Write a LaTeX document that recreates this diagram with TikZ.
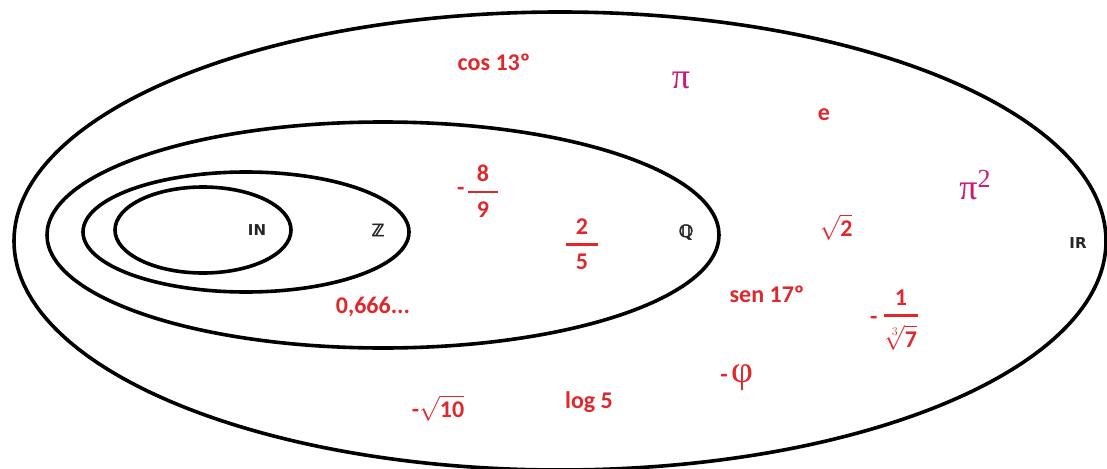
\documentclass[tikz,border=0pt]{standalone}
\usepackage{amsmath,amssymb}
\usepackage{fontspec}
\setmainfont{Carlito}
\newfontfamily\grfont{Liberation Serif}
\newfontfamily\setfont{DejaVu Sans}
\newfontfamily\dsfont[FakeBold=2.5]{DejaVu Sans}
\usetikzlibrary{positioning}
\definecolor{cRed}{HTML}{E0282C}
\definecolor{cPink}{HTML}{C8197A}
\definecolor{cSet}{HTML}{262626}
% thick fraction bar, wider than the digits, as in the drawing
\newcommand{\bfr}[3]{\genfrac{}{}{2.6pt}{0}{\makebox[#1]{#2}}{\makebox[#1]{#3}}}

\begin{document}
\begin{tikzpicture}[x=1pt, y=-1pt,
  set/.style={line width=3.6pt, draw=black},
  setname/.style={font=\setfont\bfseries\fontsize{15}{15}\selectfont, text=cSet, inner sep=1pt},
  dsname/.style={setname, font=\dsfont\bfseries\fontsize{17}{17}\selectfont},
  num/.style={font=\bfseries\fontsize{24}{25}\selectfont, text=cRed, inner sep=1pt},
  trans/.style={font=\grfont\fontsize{36}{36}\selectfont, text=cPink, inner sep=1pt},
]
\useasboundingbox (0,0) rectangle (1107,468);

% the four sets, one inside the other
\draw[set] (560,241) ellipse [x radius=546, y radius=229];
\draw[set] (383,235) ellipse [x radius=336, y radius=113];
\draw[set] (246,232) ellipse [x radius=163, y radius=60];
\draw[set] (203,230) ellipse [x radius=88, y radius=43];

\node[setname] (nat) at (257,230) {IN};
\node[dsname] (int) at (378,230) {ℤ};
\node[dsname] (rat) at (686,232) {ℚ};
\node[setname] (real) at (1078,243) {IR};

% rationals
\node[num] (f89) at (483,191) {$\bfr{30pt}{8}{9}$};
\node[num, left=0pt of f89] (m89) {-};
\node[num] (f25) at (582,244) {$\bfr{32pt}{2}{5}$};
\node[num] (per) at (373,307) {0,666...};

% irrationals
\node[num] (cos) at (494,62) {cos 13º};
\node[trans] (pi) at (681,80) {π};
\node[num] (e) at (824,115) {e};
\node[trans] (pi2) at (975,185) {π\raisebox{12pt}{\fontsize{26}{26}\selectfont 2}};
\node[num] (sq2) at (836,227) {$\sqrt{\text{2}}$};
\node[num] (sen) at (767,294) {sen 17º};
\node[num] (fr7) at (901,320) {$\bfr{34pt}{1}{$\sqrt[3]{\text{7}}$}$};
\node[num, left=3pt of fr7] (m7) {-};
\node[num] (sq10) at (438,408) {-$\sqrt{\text{10}}$};
\node[num] (log) at (589,402) {log 5};
\node[font=\grfont\fontsize{38}{38}\selectfont, text=cRed, inner sep=1pt] (phi) at (742,378) {φ};
\node[num, left=1pt of phi] (mphi) {-};

\end{tikzpicture}
\end{document}
